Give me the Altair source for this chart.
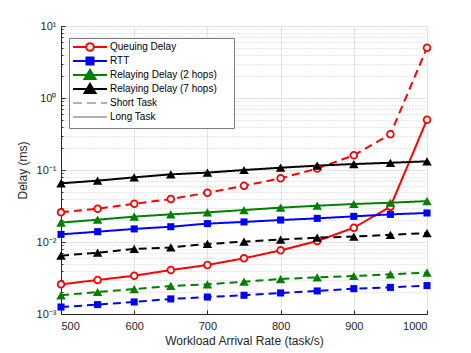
import altair as alt
import pandas as pd

# ---------------- data ----------------
rates = [500, 550, 600, 650, 700, 750, 800, 850, 900, 950, 1000]

queuing_short = [0.0258, 0.029, 0.034, 0.0395, 0.0484, 0.0605, 0.0766, 0.105, 0.16, 0.313, 5.0]
queuing_long = [0.00258, 0.00297, 0.0034, 0.00408, 0.0048, 0.00593, 0.00766, 0.0103, 0.0158, 0.031, 0.5]
rtt_short = [0.00125, 0.00135, 0.00147, 0.00162, 0.00172, 0.00182, 0.00196, 0.00209, 0.00225, 0.00234, 0.00248]
rtt_long = [0.01276, 0.0139, 0.0152, 0.0163, 0.018, 0.019, 0.0202, 0.0213, 0.0227, 0.0242, 0.0253]
relay2_short = [0.00182, 0.00202, 0.00222, 0.00245, 0.00258, 0.00281, 0.00306, 0.00323, 0.00337, 0.00356, 0.00375]
relay2_long = [0.0186, 0.0204, 0.0225, 0.0242, 0.0258, 0.0278, 0.030, 0.0319, 0.0337, 0.0351, 0.037]
relay7_short = [0.00646, 0.0071, 0.0080, 0.0084, 0.0094, 0.0101, 0.0108, 0.0115, 0.0119, 0.0126, 0.0133]
relay7_long = [0.0653, 0.0711, 0.079, 0.087, 0.092, 0.100, 0.1076, 0.115, 0.121, 0.126, 0.132]

series_names = ["Queuing Delay", "RTT", "Relaying Delay (2 hops)", "Relaying Delay (7 hops)"]
task_names = ["Short Task", "Long Task"]
legend_labels = series_names + task_names
legend_colors = ["#ff0000", "#0000ff", "#008000", "#000000", "#b3b3b3", "#b3b3b3"]

x_ticks = [500, 600, 700, 800, 900, 1000]
y_major = [0.001, 0.01, 0.1, 1, 10]

series_values = {
    ("Queuing Delay", "Short Task"): queuing_short,
    ("Queuing Delay", "Long Task"): queuing_long,
    ("RTT", "Short Task"): rtt_short,
    ("RTT", "Long Task"): rtt_long,
    ("Relaying Delay (2 hops)", "Short Task"): relay2_short,
    ("Relaying Delay (2 hops)", "Long Task"): relay2_long,
    ("Relaying Delay (7 hops)", "Short Task"): relay7_short,
    ("Relaying Delay (7 hops)", "Long Task"): relay7_long,
}

rows = []
for (s, t), vals in series_values.items():
    for r, v in zip(rates, vals):
        rows.append({"series": s, "task": t, "rate": r, "delay": v})
df = pd.DataFrame(rows)
legend_df = pd.DataFrame({"series": legend_labels})

y_minor = [m * 10.0 ** d for d in (-3, -2, -1, 0) for m in range(2, 10)]

# ---------------- styling ----------------
FONT = "Liberation Sans"
TXT = "#262626"
GRID = "#e2e2e2"
MINOR = "#cfcfcf"

x_scale = alt.Scale(domain=[500, 1000], nice=False, zero=False)
y_scale = alt.Scale(type="log", domain=[0.001, 10], nice=False)
color_scale = alt.Scale(domain=legend_labels, range=legend_colors)

# legend symbols: line + marker as one custom path (1 unit = 5 px at size 100)
EXT = "M2.4,-1.0M2.4,0.8"
sym_paths = [
    EXT + "M-1,0H1.64M3.16,0H5.8"
    "M3.16,0A0.76,0.76 0 1,1 1.64,0A0.76,0.76 0 1,1 3.16,0Z"
    "M3.16,0A0.76,0.76 0 1,0 1.64,0A0.76,0.76 0 1,0 3.16,0Z",
    EXT + "M-1,0H5.8M1.7,-0.7H3.1V0.7H1.7Z",
    EXT + "M-1,0H5.8M1.3,0.8L3.5,0.8L2.4,-1.0Z",
    EXT + "M-1,0H5.8M1.3,0.8L3.5,0.8L2.4,-1.0Z",
    EXT + "M-1,0H0.8M1.8,0H3.6M4.6,0H5.8",
    EXT + "M-1,0H5.8",
]
shape_scale = alt.Scale(domain=legend_labels, range=sym_paths)
stroke_scale = alt.Scale(domain=legend_labels, range=legend_colors)

legend = alt.Legend(
    title="M", titleOrient="right", titleColor="white", titleFontSize=10,
    titlePadding=5, titleFont=FONT,
    orient="none", legendX=8, legendY=12,
    fillColor="white", strokeColor="#7f7f7f", padding=3, cornerRadius=0,
    labelFont=FONT, labelFontSize=10, labelColor="#000000", labelOffset=26,
    symbolSize=100, symbolStrokeWidth=2, rowPadding=-8,
)

y_label_expr = (
    "datum.value >= 5 ? '10\u00b9' : datum.value >= 0.5 ? '10\u2070' : "
    "datum.value >= 0.05 ? '10\u207b\u00b9' : datum.value >= 0.005 ? '10\u207b\u00b2' : '10\u207b\u00b3'"
)

x_main_axis = alt.Axis(
    orient="bottom", values=x_ticks, format="d", grid=True, gridColor=GRID, gridWidth=1,
    ticks=False, tickSize=0, domain=True, domainColor=TXT, domainWidth=1,
    labelFont=FONT, labelFontSize=11, labelColor=TXT, labelPadding=6,
    title="Workload Arrival Rate (task/s)", titleFont=FONT, titleFontSize=12,
    titleFontWeight="normal", titleColor=TXT, titlePadding=4,
)
y_main_axis = alt.Axis(
    orient="left", values=y_major, grid=True, gridColor=GRID, gridWidth=1,
    ticks=False, tickSize=0, domain=True, domainColor=TXT, domainWidth=1,
    labelFont=FONT, labelFontSize=11, labelColor=TXT, labelPadding=5,
    labelExpr=y_label_expr,
    title="Delay (ms)", titleFont=FONT, titleFontSize=12,
    titleFontWeight="normal", titleColor=TXT, titlePadding=7,
)
x_tick_axis = alt.Axis(
    orient="bottom", values=x_ticks, grid=False, ticks=True, tickSize=4,
    tickColor=TXT, offset=-4, domain=False, labels=False, title=None,
)
y_minor_grid_axis = alt.Axis(
    orient="left", values=y_minor, grid=True, gridColor=MINOR, gridDash=[1, 2],
    gridWidth=1, ticks=False, tickSize=0, domain=False, labels=False, title=None,
)
y_major_tick_axis = alt.Axis(
    orient="left", values=y_major, grid=False, ticks=True, tickSize=4,
    tickColor=TXT, offset=-4, domain=False, labels=False, title=None,
)
y_minor_tick_axis = alt.Axis(
    orient="left", values=y_minor, grid=False, ticks=True, tickSize=2,
    tickColor=TXT, offset=-2, domain=False, labels=False, title=None,
)

color_enc = alt.Color("series:N", scale=color_scale, legend=legend)

lines = alt.Chart(df).mark_line(strokeWidth=2).encode(
    x=alt.X("rate:Q", scale=x_scale, axis=x_main_axis),
    y=alt.Y("delay:Q", scale=y_scale, axis=y_main_axis),
    color=color_enc,
    strokeDash=alt.StrokeDash(
        "task:N", scale=alt.Scale(domain=task_names, range=[[8, 5], [1, 0]]), legend=None
    ),
    detail="task:N",
)

circles = alt.Chart(df).transform_filter(
    alt.datum.series == "Queuing Delay"
).mark_point(shape="circle", filled=False, fill="white", size=45, strokeWidth=1.8, opacity=1).encode(
    x=alt.X("rate:Q", scale=x_scale, axis=x_tick_axis),
    y=alt.Y("delay:Q", scale=y_scale, axis=y_minor_grid_axis),
    color=color_enc,
)

squares = alt.Chart(df).transform_filter(
    alt.datum.series == "RTT"
).mark_point(shape="square", filled=True, size=50, opacity=1).encode(
    x=alt.X("rate:Q", scale=x_scale, axis=None),
    y=alt.Y("delay:Q", scale=y_scale, axis=y_major_tick_axis),
    color=color_enc,
)

triangles = alt.Chart(df).transform_filter(
    (alt.datum.series == "Relaying Delay (2 hops)") | (alt.datum.series == "Relaying Delay (7 hops)")
).mark_point(shape="triangle-up", filled=True, size=90, opacity=1).encode(
    x=alt.X("rate:Q", scale=x_scale, axis=None),
    y=alt.Y("delay:Q", scale=y_scale, axis=y_minor_tick_axis),
    color=color_enc,
)

legend_layer = alt.Chart(legend_df).mark_point(filled=True, opacity=1, clip=True).encode(
    x=alt.value(-60),
    y=alt.value(-60),
    color=alt.Color("series:N", scale=color_scale, legend=legend),
    stroke=alt.Stroke("series:N", scale=stroke_scale, legend=legend),
    shape=alt.Shape("series:N", scale=shape_scale, legend=legend),
)

chart = alt.layer(legend_layer, lines, circles, squares, triangles).resolve_axis(
    x="independent", y="independent"
).properties(
    width=366, height=288,
    autosize=alt.AutoSizeParams(type="none"),
    padding={"left": 53, "top": 18, "right": 30, "bottom": 35},
).configure_view(stroke=None).configure(background="white")

chart.save("out.html", embed_options={"renderer": "svg", "actions": False})
